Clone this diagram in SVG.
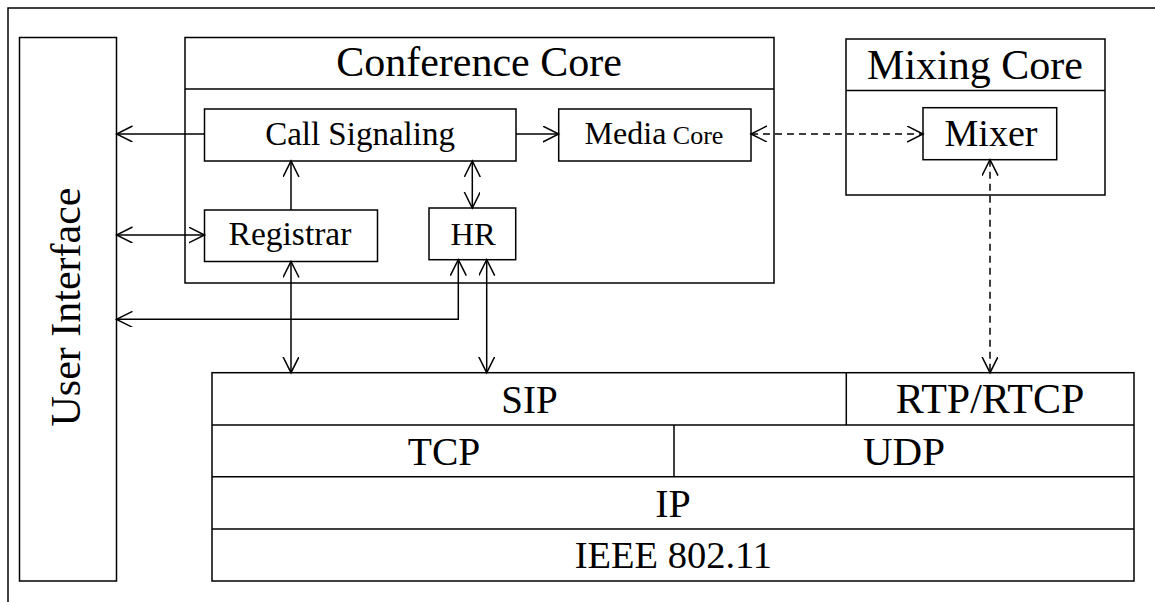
<svg xmlns="http://www.w3.org/2000/svg" width="1155" height="602" viewBox="0 0 1155 602">
<style>
.box{fill:#fff;stroke:#000;stroke-width:1.5}
.ln{fill:none;stroke:#000;stroke-width:1.5}
.t{font-family:'Liberation Serif',serif;fill:#000;text-anchor:middle}
.c{fill:none;stroke:#000;stroke-width:1.5}
.d{stroke-dasharray:7 5}
</style>
<defs>
<marker id="ah" markerUnits="userSpaceOnUse" markerWidth="18" markerHeight="18" refX="16" refY="8" orient="auto-start-reverse" viewBox="0 0 18 18">
<path d="M0,0 L16,8 L0,16" fill="none" stroke="#000" stroke-width="1.5"/>
</marker>
</defs>
<rect width="1155" height="602" fill="#fff"/>
<path class="ln" d="M8,602 V8 H1155"/>
<g id="user-interface">
<rect class="box" x="19.5" y="37.5" width="97" height="543.5"/>
<text class="t" font-family="Liberation Serif" font-size="42" transform="translate(80,307) rotate(-90)">User Interface</text>
</g>
<g id="conference-core">
<rect class="box" x="185" y="37.5" width="589" height="245.5"/>
<line class="ln" x1="185" y1="89" x2="774" y2="89"/>
<text class="t" font-family="Liberation Serif" font-size="42" x="479" y="76">Conference Core</text>
</g>
<g id="call-signaling">
<rect class="box" x="204.5" y="109" width="311.5" height="52"/>
<text class="t" font-family="Liberation Serif" font-size="33" x="360" y="145">Call Signaling</text>
</g>
<g id="media-core">
<rect class="box" x="558.7" y="109" width="192.3" height="52"/>
<text class="t" font-family="Liberation Serif" x="654" y="143.5"><tspan font-size="32">Media</tspan><tspan font-size="26"> Core</tspan></text>
</g>
<g id="registrar">
<rect class="box" x="204.5" y="210" width="173" height="51.5"/>
<text class="t" font-family="Liberation Serif" font-size="33.5" x="290" y="245">Registrar</text>
</g>
<g id="hr">
<rect class="box" x="429" y="208" width="86.7" height="51.7"/>
<text class="t" font-family="Liberation Serif" font-size="32.5" x="473" y="245">HR</text>
</g>
<g id="mixing-core">
<rect class="box" x="846" y="39" width="259" height="156"/>
<line class="ln" x1="846" y1="90.5" x2="1105" y2="90.5"/>
<text class="t" font-family="Liberation Serif" font-size="42" x="975" y="78.5">Mixing Core</text>
</g>
<g id="mixer">
<rect class="box" x="923" y="107.7" width="133.7" height="52"/>
<text class="t" font-family="Liberation Serif" font-size="38" x="991" y="145.5">Mixer</text>
</g>
<g id="protocol-stack">
<rect class="box" x="212" y="372.7" width="922" height="208.3"/>
<line class="ln" x1="212" y1="425" x2="1134" y2="425"/>
<line class="ln" x1="212" y1="476.7" x2="1134" y2="476.7"/>
<line class="ln" x1="212" y1="529" x2="1134" y2="529"/>
<line class="ln" x1="846.3" y1="372.7" x2="846.3" y2="425"/>
<line class="ln" x1="674" y1="425" x2="674" y2="476.7"/>
</g>
<g id="sip"><text class="t" font-family="Liberation Serif" font-size="39" x="529.5" y="412.7">SIP</text></g>
<g id="rtp-rtcp"><text class="t" font-family="Liberation Serif" font-size="42" x="990" y="412.7">RTP/RTCP</text></g>
<g id="tcp"><text class="t" font-family="Liberation Serif" font-size="39.5" x="444" y="465">TCP</text></g>
<g id="udp"><text class="t" font-family="Liberation Serif" font-size="41" x="904" y="465">UDP</text></g>
<g id="ip"><text class="t" font-family="Liberation Serif" font-size="40" x="673" y="516.7">IP</text></g>
<g id="ieee"><text class="t" font-family="Liberation Serif" font-size="38.5" x="673.4" y="568.3">IEEE 802.11</text></g>
<g id="connectors">
<path class="c" d="M204.5,134 H116.5" marker-end="url(#ah)"/>
<path class="c" d="M116.5,235 H204.5" marker-start="url(#ah)" marker-end="url(#ah)"/>
<path class="c" d="M291,210 V161" marker-end="url(#ah)"/>
<path class="c" d="M291,261.5 V372.7" marker-start="url(#ah)" marker-end="url(#ah)"/>
<path class="c" d="M458.3,259.7 V319.3 H116.5" marker-start="url(#ah)" marker-end="url(#ah)"/>
<path class="c" d="M486.7,259.7 V372.7" marker-start="url(#ah)" marker-end="url(#ah)"/>
<path class="c" d="M472.3,161 V208" marker-start="url(#ah)" marker-end="url(#ah)"/>
<path class="c" d="M516,134 H558.7" marker-end="url(#ah)"/>
<path class="c d" d="M751,134 H923" marker-start="url(#ah)" marker-end="url(#ah)"/>
<path class="c d" d="M990,159.7 V372.7" marker-start="url(#ah)" marker-end="url(#ah)"/>
</g>
</svg>
